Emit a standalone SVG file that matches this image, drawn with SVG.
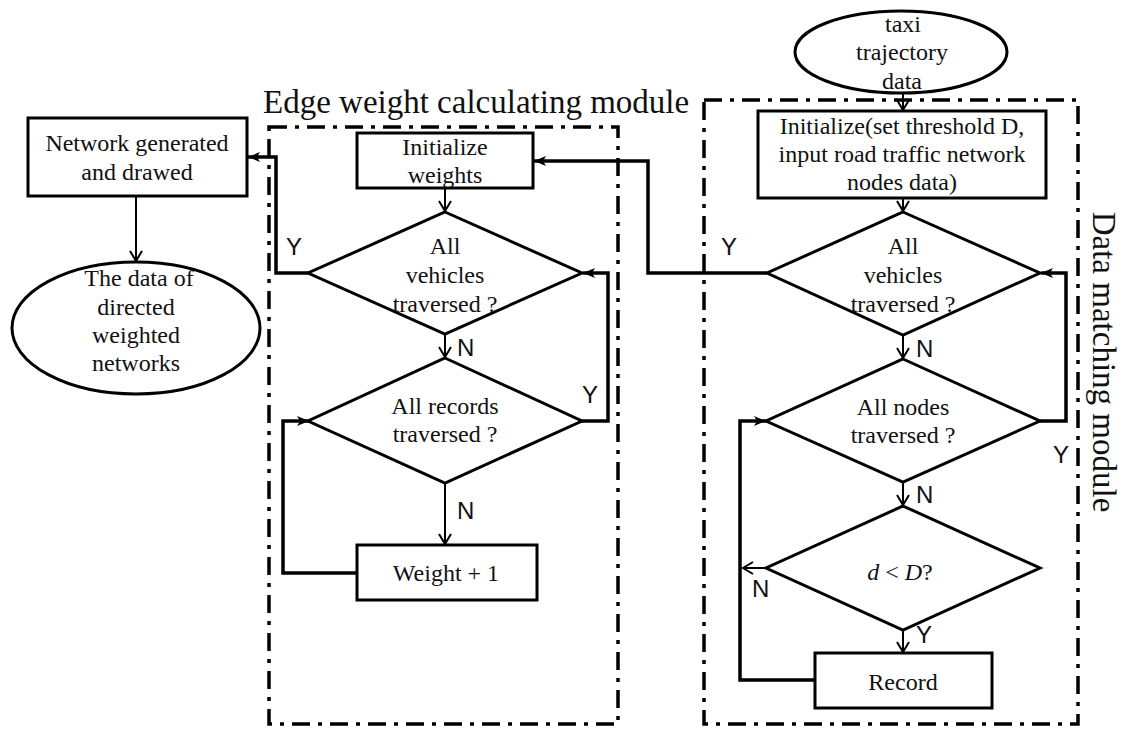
<svg xmlns="http://www.w3.org/2000/svg" width="1121" height="729" viewBox="0 0 1121 729">
<style>
  .shape { fill: #fff; stroke: #000; stroke-width: 3; }
  .frame { fill: none; stroke: #000; stroke-width: 3.5; stroke-dasharray: 18 8 4 8; }
  .t { font-family: "Liberation Serif", "Times New Roman", serif; font-size: 24px; fill: #111; text-anchor: middle; }
  .title { font-family: "Liberation Serif", "Times New Roman", serif; font-size: 33px; fill: #111; }
  .lbl { font-family: "Liberation Sans", Arial, sans-serif; font-size: 24px; fill: #111; }
  .thin { fill: none; stroke: #000; stroke-width: 2; marker-end: url(#open); }
  .thick { fill: none; stroke: #000; stroke-width: 3.5; marker-end: url(#solid); }
</style>
<defs>
  <marker id="open" markerUnits="userSpaceOnUse" markerWidth="14" markerHeight="14" viewBox="-12 -7 14 14" refX="0" refY="0" orient="auto">
    <path d="M-10,-6 L0,0 L-10,6" fill="none" stroke="#000" stroke-width="2"/>
  </marker>
  <marker id="solid" markerUnits="userSpaceOnUse" markerWidth="14" markerHeight="12" viewBox="-13 -6 14 12" refX="0" refY="0" orient="auto">
    <path d="M-12,-5 L0,0 L-12,5 L-9,0 Z" fill="#000"/>
  </marker>
</defs>
<rect width="1121" height="729" fill="#fff"/>

<g id="frames">
  <rect class="frame" x="269" y="127" width="349" height="597"/>
  <rect class="frame" x="704" y="100" width="374" height="624"/>
  <text class="title" x="263" y="113">Edge weight calculating module</text>
  <text class="title" font-size="31" text-anchor="middle" transform="translate(1093,362) rotate(90)">Data matching module</text>
</g>

<g id="connectors">
  <line class="thin" x1="903" y1="93" x2="903" y2="110"/>
  <line class="thin" x1="903" y1="198" x2="903" y2="211"/>
  <line class="thin" x1="903" y1="335" x2="903" y2="358"/>
  <line class="thin" x1="903" y1="482" x2="903" y2="505"/>
  <line class="thin" x1="903" y1="630" x2="903" y2="652"/>
  <polyline class="thick" points="1040,421 1066,421 1066,273 1041,273"/>
  <polyline class="thick" points="815,680 740,680 740,421 766,421"/>
  <line class="thin" x1="766" y1="568" x2="743" y2="568"/>
  <polyline class="thick" points="767,273 648,273 648,161 534,161"/>
  <line class="thin" x1="445" y1="188" x2="445" y2="211"/>
  <line class="thin" x1="445" y1="334" x2="445" y2="357"/>
  <line class="thin" x1="445" y1="483" x2="445" y2="544"/>
  <polyline class="thick" points="357,573 283,573 283,421 309,421"/>
  <polyline class="thick" points="582,421 608,421 608,273 583,273"/>
  <polyline class="thick" points="308,273 276,273 276,157 248,157"/>
  <line class="thin" x1="136" y1="196" x2="136" y2="261"/>
</g>

<g id="labels">
  <text class="lbl" x="916" y="357">N</text>
  <text class="lbl" x="916" y="503">N</text>
  <text class="lbl" x="1053" y="463">Y</text>
  <text class="lbl" x="752" y="597">N</text>
  <text class="lbl" x="916" y="643">Y</text>
  <text class="lbl" x="721" y="255">Y</text>
  <text class="lbl" x="286" y="255">Y</text>
  <text class="lbl" x="457" y="356">N</text>
  <text class="lbl" x="582" y="403">Y</text>
  <text class="lbl" x="457" y="519">N</text>
</g>

<g id="taxi-data">
  <ellipse class="shape" cx="901" cy="52" rx="106" ry="41"/>
  <text class="t" x="903" y="32">taxi</text>
  <text class="t" x="902" y="60">trajectory</text>
  <text class="t" x="902" y="89">data</text>
</g>

<g id="initialize-threshold">
  <rect class="shape" x="758" y="111" width="288" height="87"/>
  <text class="t" x="902" y="134">Initialize(set threshold D,</text>
  <text class="t" x="902" y="162">input road traffic network</text>
  <text class="t" x="902" y="190">nodes data)</text>
</g>

<g id="all-vehicles-right">
  <polygon class="shape" points="903,212 1040,273 903,335 767,273"/>
  <text class="t" x="903" y="254">All</text>
  <text class="t" x="903" y="283">vehicles</text>
  <text class="t" x="903" y="312">traversed ?</text>
</g>

<g id="all-nodes">
  <polygon class="shape" points="903,359 1040,421 903,482 766,421"/>
  <text class="t" x="903" y="415">All nodes</text>
  <text class="t" x="903" y="443">traversed ?</text>
</g>

<g id="d-less-D">
  <polygon class="shape" points="903,506 1040,568 903,630 766,568"/>
  <text class="t" x="900" y="580"><tspan font-style="italic">d</tspan> &lt; <tspan font-style="italic">D</tspan>?</text>
</g>

<g id="record">
  <rect class="shape" x="815" y="653" width="177" height="55"/>
  <text class="t" x="903" y="690">Record</text>
</g>

<g id="initialize-weights">
  <rect class="shape" x="357" y="133" width="176" height="55"/>
  <text class="t" x="445" y="155">Initialize</text>
  <text class="t" x="445" y="183">weights</text>
</g>

<g id="all-vehicles-left">
  <polygon class="shape" points="445,212 582,273 445,334 308,273"/>
  <text class="t" x="445" y="254">All</text>
  <text class="t" x="445" y="283">vehicles</text>
  <text class="t" x="445" y="312">traversed ?</text>
</g>

<g id="all-records">
  <polygon class="shape" points="445,358 582,421 445,483 308,421"/>
  <text class="t" x="445" y="414">All records</text>
  <text class="t" x="445" y="442">traversed ?</text>
</g>

<g id="weight-plus-one">
  <rect class="shape" x="357" y="545" width="180" height="55"/>
  <text class="t" x="446" y="581">Weight + 1</text>
</g>

<g id="network-generated">
  <rect class="shape" x="28" y="118" width="219" height="78"/>
  <text class="t" x="137" y="151">Network generated</text>
  <text class="t" x="137" y="180">and drawed</text>
</g>

<g id="network-data">
  <ellipse class="shape" cx="136" cy="328" rx="124" ry="66"/>
  <text class="t" x="139" y="286">The data of</text>
  <text class="t" x="136" y="315">directed</text>
  <text class="t" x="136" y="343">weighted</text>
  <text class="t" x="136" y="371">networks</text>
</g>
</svg>
